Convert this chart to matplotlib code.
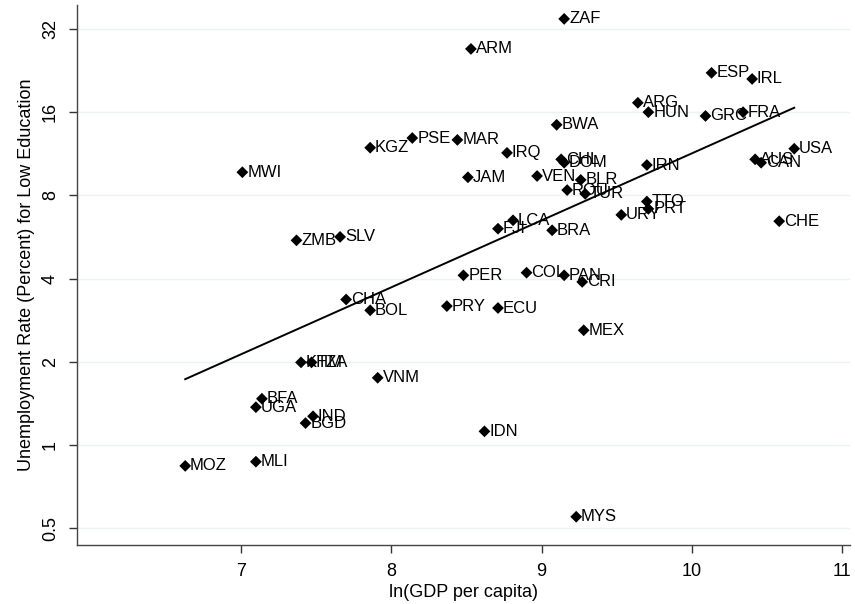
"""Scatter of low-education unemployment against log GDP per capita, with a log-linear fit."""

import matplotlib

matplotlib.use("Agg")
import matplotlib.pyplot as plt
from matplotlib.ticker import FixedLocator, FixedFormatter, NullLocator

plt.rcParams["font.family"] = ["Liberation Sans", "DejaVu Sans"]

# ln(GDP per capita), unemployment rate (percent) for low education
countries = [
    "ZAF", "ARM", "MWI", "KGZ", "ZMB", "SLV", "PSE", "MAR", "IRQ", "JAM",
    "VEN", "LCA", "FJI", "BWA", "CHL", "DOM", "BLR", "ROU", "TUR", "IRN",
    "URY", "TTO", "PRT", "CHE", "BRA", "ARG", "HUN", "GRC", "FRA", "ESP",
    "IRL", "AUS", "CAN", "USA", "PER", "COL", "PAN", "CRI", "PRY", "ECU",
    "MEX", "CHA", "BOL", "KHM", "TZA", "VNM", "BFA", "UGA", "IND", "BGD",
    "IDN", "MOZ", "MLI", "MYS",
]
ln_gdp = [
    9.15, 8.53, 7.01, 7.86, 7.37, 7.66, 8.14, 8.44, 8.77, 8.51,
    8.97, 8.81, 8.71, 9.10, 9.13, 9.15, 9.26, 9.17, 9.29, 9.70,
    9.53, 9.70, 9.71, 10.58, 9.07, 9.64, 9.71, 10.09, 10.34, 10.13,
    10.40, 10.42, 10.46, 10.68, 8.48, 8.90, 9.15, 9.27, 8.37, 8.71,
    9.28, 7.70, 7.86, 7.40, 7.47, 7.91, 7.14, 7.10, 7.48, 7.43,
    8.62, 6.63, 7.10, 9.23,
]
unemp = [
    34.8, 27.1, 9.7, 11.9, 5.5, 5.66, 12.9, 12.7, 11.4, 9.3,
    9.4, 6.5, 6.06, 14.4, 10.8, 10.5, 9.1, 8.36, 8.1, 10.3,
    6.8, 7.6, 7.15, 6.45, 5.98, 17.3, 16.0, 15.5, 16.0, 22.2,
    21.1, 10.8, 10.5, 11.8, 4.11, 4.2, 4.11, 3.89, 3.18, 3.13,
    2.60, 3.36, 3.07, 1.99, 1.99, 1.75, 1.47, 1.37, 1.27, 1.20,
    1.12, 0.84, 0.87, 0.55,
]

# fitted line end points (log scale fit)
fit_x = [6.63, 10.68]
fit_y = [1.73, 16.6]

y_ticks = [0.5, 1, 2, 4, 8, 16, 32]
y_tick_labels = ["0.5", "1", "2", "4", "8", "16", "32"]
x_ticks = [7, 8, 9, 10, 11]

fig = plt.figure(figsize=(8.55, 6.04), dpi=100)
ax = fig.add_axes([0.090, 0.098, 0.904, 0.894])

ax.set_yscale("log", base=2)
ax.set_xlim(5.91, 11.05)
ax.set_ylim(2 ** -1.20, 2 ** 5.29)

for t in y_ticks:
    ax.axhline(t, color="#eaf2f3", lw=1.0, zorder=0)

ax.plot(fit_x, fit_y, color="black", lw=1.4, zorder=2)
ax.scatter(ln_gdp, unemp, marker="D", s=36, color="black", edgecolors="none", zorder=3)
for name, x, y in zip(countries, ln_gdp, unemp):
    ax.annotate(name, (x, y), xytext=(3.5, 0), textcoords="offset points",
                va="center", ha="left", fontsize=12, zorder=4)

ax.yaxis.set_major_locator(FixedLocator(y_ticks))
ax.yaxis.set_major_formatter(FixedFormatter(y_tick_labels))
ax.yaxis.set_minor_locator(NullLocator())
ax.set_xticks(x_ticks)
ax.tick_params(axis="both", labelsize=13, direction="out", length=6, width=1,
               color="#333333", pad=7)
for lab in ax.get_yticklabels():
    lab.set_rotation(90)
    lab.set_va("center")

ax.set_xlabel("ln(GDP per capita)", fontsize=13, labelpad=3)
ax.set_ylabel("Unemployment Rate (Percent) for Low Education", fontsize=13, labelpad=5)

for side in ("top", "right"):
    ax.spines[side].set_visible(False)
for side in ("left", "bottom"):
    ax.spines[side].set_color("#444444")
    ax.spines[side].set_linewidth(1.0)

fig.savefig("out.png", dpi=100)
